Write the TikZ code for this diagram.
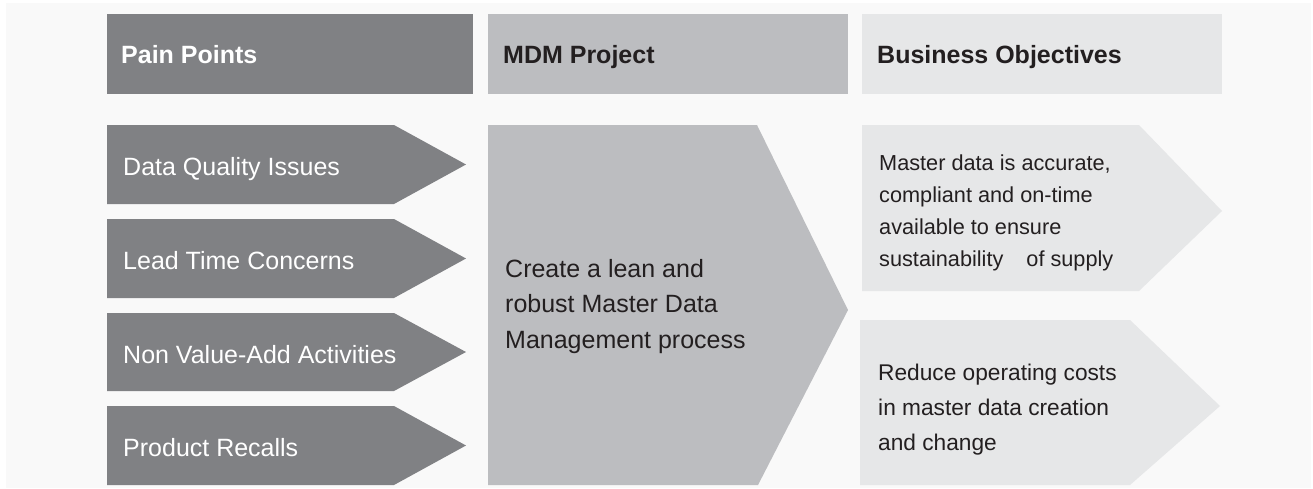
\documentclass[tikz,border=0pt]{standalone}
\usepackage{fontspec}
\setmainfont{Liberation Sans}
\usepackage{xcolor}
\definecolor{paingray}{RGB}{128,129,132}
\definecolor{mdmgray}{RGB}{188,189,192}
\definecolor{goalgray}{RGB}{230,231,232}
\definecolor{pagegray}{RGB}{249,249,249}
\definecolor{inkgray}{RGB}{35,31,32}

\begin{document}
\begin{tikzpicture}[x=1pt,y=1pt,yscale=-1,xscale=1,
  headtext/.style={anchor=base west,inner sep=0pt,font=\fontsize{25}{30}\selectfont\bfseries},
  paintext/.style={anchor=base west,inner sep=0pt,text=white,font=\fontsize{25}{30}\selectfont},
  bodytext/.style={anchor=base west,inner sep=0pt,text=inkgray,align=left}]
\useasboundingbox (0,0) rectangle (1313,488);
\fill[white] (0,0) rectangle (1313,488);
\fill[pagegray] (6,3) rectangle (1311,488);

%Shape: Rectangle [header pain]
\fill[paingray] (107,14) rectangle (473,94);
%Shape: Rectangle [header mdm]
\fill[mdmgray] (488,14) rectangle (848,94);
%Shape: Rectangle [header goal]
\fill[goalgray] (862,14) rectangle (1222,94);

%Shape: Chevron [pain 1]
\fill[paingray] (107,125) -- (394,125) -- (466,164.5) -- (394,204) -- (107,204) -- cycle;
%Shape: Chevron [pain 2]
\fill[paingray] (107,219) -- (394,219) -- (466,258.5) -- (394,298) -- (107,298) -- cycle;
%Shape: Chevron [pain 3]
\fill[paingray] (107,313) -- (394,313) -- (466,352) -- (394,391) -- (107,391) -- cycle;
%Shape: Chevron [pain 4]
\fill[paingray] (107,406) -- (394,406) -- (466,445.5) -- (394,485) -- (107,485) -- cycle;
%Shape: Chevron [mdm]
\fill[mdmgray] (488,125) -- (757,125) -- (848,310) -- (758,485) -- (488,485) -- cycle;
%Shape: Chevron [goal 1]
\fill[goalgray] (862,125) -- (1139,125) -- (1222,211) -- (1139,291) -- (862,291) -- cycle;
%Shape: Chevron [goal 2]
\fill[goalgray] (860,320) -- (1130,320) -- (1220,406) -- (1130,485) -- (860,485) -- cycle;

% Text Node
\node[headtext,text=white] (painhead) at (121,63.5) {Pain Points};
% Text Node
\node[headtext,text=inkgray] (mdmhead) at (503,63.5) {MDM Project};
% Text Node
\node[headtext,text=inkgray] (goalhead) at (877,63.5) {Business Objectives};
% Text Node
\node[paintext] (quality) at (123,175) {Data Quality Issues};
% Text Node
\node[paintext] (leadtime) at (123,269) {Lead Time Concerns};
% Text Node
\node[paintext] (nonvalue) at (123,363) {Non Value-Add Activities};
% Text Node
\node[paintext] (recalls) at (123,456) {Product Recalls};
% Text Node (base = last line)
\node[bodytext,font=\fontsize{25}{35.5}\selectfont] (mdmtext) at (505,348.3) {Create a lean and\\robust Master Data\\Management process};
% Text Node (base = last line)
\node[bodytext,font=\fontsize{21.7}{32}\selectfont] (goaltext1) at (879,266.7) {Master data is accurate,\\compliant and on-time\\available to ensure\\sustainability\hspace{17pt} of supply};
% Text Node (base = last line)
\node[bodytext,font=\fontsize{22.7}{35}\selectfont] (goaltext2) at (878,450.7) {Reduce operating costs\\in master data creation\\and change};
\end{tikzpicture}
\end{document}
